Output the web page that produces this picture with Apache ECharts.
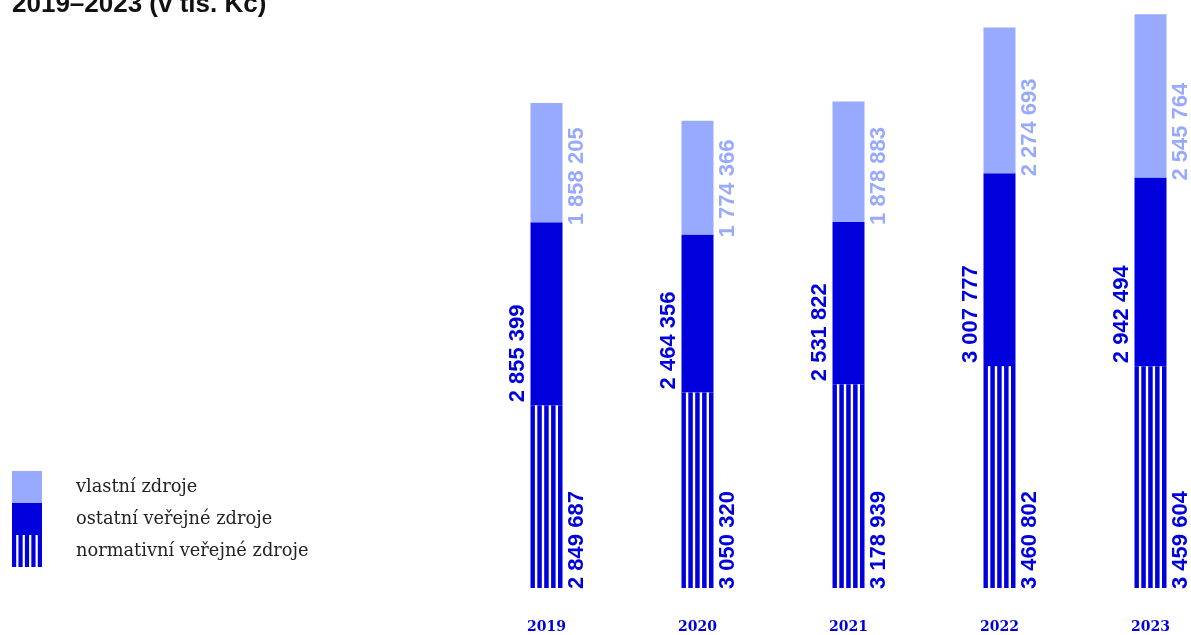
<!DOCTYPE html>
<html>
<head>
<meta charset="utf-8">
<script src="https://cdn.jsdelivr.net/npm/echarts@6/dist/echarts.min.js"></script>
<style>
  html, body { margin: 0; padding: 0; background: #ffffff; }
  #chart { width: 1191px; height: 635px; }
</style>
</head>
<body>
<div id="chart"></div>
<script>
// Zdroje financování 2019–2023 (v tis. Kč)
const years = ['2019', '2020', '2021', '2022', '2023'];
const normativni = [2849687, 3050320, 3178939, 3460802, 3459604];
const ostatniVerejne = [2855399, 2464356, 2531822, 3007777, 2942494];
const vlastni = [1858205, 1774366, 1878883, 2274693, 2545764];

const seriesNames = ['vlastní zdroje', 'ostatní veřejné zdroje', 'normativní veřejné zdroje'];

const DARK = '#0000dc';
const LIGHT = '#98aaff';
const BAR_W = 32;

// thousands separated by a space, e.g. 2 849 687
function fmt(v) {
  return String(v).replace(/\B(?=(\d{3})+(?!\d))/g, ' ');
}

const valueLabel = {
  show: true,
  rotate: 90,
  fontFamily: 'Liberation Sans, Arial, sans-serif',
  fontWeight: 'bold',
  fontSize: 22,
  lineHeight: 22,
  align: 'left',
  formatter: p => fmt(p.value)
};

// striped legend icon: five vertical bars in a 30x32 box
const stripeIcon = 'path://' + [0, 1, 2, 3, 4].map(k => {
  const x = (k * 6.45).toFixed(2);
  return 'M' + x + ',0h4.2v32h-4.2z';
}).join(' ');

const chart = echarts.init(document.getElementById('chart'), null, { renderer: 'canvas' });

chart.setOption({
  backgroundColor: '#ffffff',
  animation: false,
  title: {
    text: '2019–2023 (v tis. Kč)',
    left: 12,
    top: -8,
    padding: 0,
    textStyle: {
      fontFamily: 'Liberation Sans, Arial, sans-serif',
      fontWeight: 'bold',
      fontSize: 26,
      lineHeight: 26,
      color: '#111111'
    }
  },
  legend: {
    orient: 'vertical',
    left: 12,
    top: 471,
    padding: 0,
    itemGap: 0,
    itemWidth: 30,
    itemHeight: 32,
    selectedMode: false,
    textStyle: {
      fontFamily: 'DejaVu Serif, serif',
      fontSize: 17.8,
      color: '#222222',
      padding: [0, 0, 0, 29]
    },
    data: [
      { name: seriesNames[0], icon: 'rect' },
      { name: seriesNames[1], icon: 'rect' },
      { name: seriesNames[2], icon: stripeIcon }
    ]
  },
  grid: {
    left: 471,
    width: 755,
    top: 11,
    height: 577,
    containLabel: false,
    outerBoundsMode: 'none'
  },
  xAxis: {
    type: 'category',
    data: years,
    axisLine: { show: false },
    axisTick: { show: false },
    axisLabel: {
      margin: 32,
      fontFamily: 'DejaVu Serif, serif',
      fontWeight: 'bold',
      fontSize: 14,
      color: DARK
    }
  },
  yAxis: {
    type: 'value',
    min: 0,
    max: 9000000,
    show: false,
    splitLine: { show: false }
  },
  series: [
    {
      name: seriesNames[2],
      type: 'bar',
      stack: 'zdroje',
      barWidth: BAR_W,
      data: normativni,
      itemStyle: { color: DARK },
      label: Object.assign({}, valueLabel, {
        color: DARK,
        position: ['100%', '100%'],
        verticalAlign: 'top',
        offset: [-1, 3]
      })
    },
    {
      name: seriesNames[1],
      type: 'bar',
      stack: 'zdroje',
      barWidth: BAR_W,
      data: ostatniVerejne,
      itemStyle: { color: DARK },
      label: Object.assign({}, valueLabel, {
        color: DARK,
        position: ['0%', '100%'],
        verticalAlign: 'bottom',
        offset: [3, -2]
      })
    },
    {
      name: seriesNames[0],
      type: 'bar',
      stack: 'zdroje',
      barWidth: BAR_W,
      data: vlastni,
      itemStyle: { color: LIGHT },
      label: Object.assign({}, valueLabel, {
        color: LIGHT,
        position: ['100%', '100%'],
        verticalAlign: 'top',
        offset: [-3, 3]
      })
    },
    {
      // white gaps that turn the normative bars into vertical stripes
      type: 'custom',
      silent: true,
      z: 3,
      data: normativni.map((v, i) => [i, v]),
      renderItem: function (params, api) {
        const idx = api.value(0);
        const base = api.coord([idx, 0]);
        const top = api.coord([idx, api.value(1)]);
        const x0 = base[0] - BAR_W / 2;
        const children = [];
        for (let k = 0; k < 4; k++) {
          children.push({
            type: 'rect',
            shape: { x: x0 + 4.4 + k * 6.9, y: top[1], width: 2.4, height: base[1] - top[1] },
            style: { fill: '#ffffff' }
          });
        }
        return { type: 'group', children: children };
      }
    }
  ]
});
</script>
</body>
</html>
